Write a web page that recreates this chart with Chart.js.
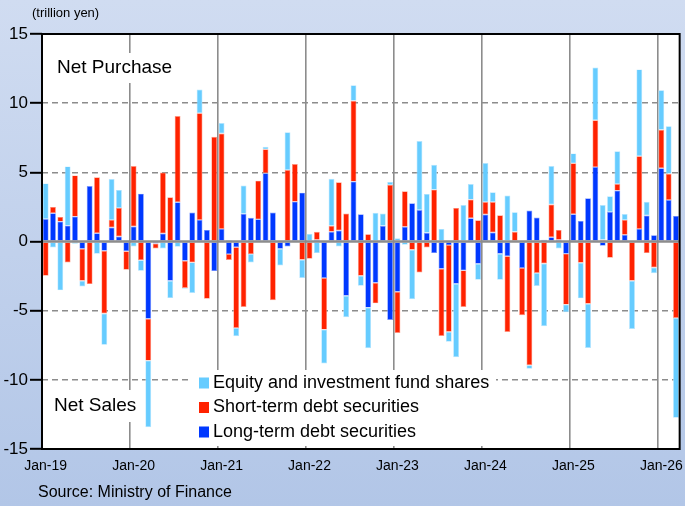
<!DOCTYPE html>
<html>
<head>
<meta charset="utf-8">
<script src="https://cdn.jsdelivr.net/npm/chart.js@4.4.1/dist/chart.umd.min.js"></script>
<style>
body { margin: 0; background: #c4d3ee; }
canvas { display: block; }
</style>
</head>
<body>
<canvas id="flows" width="685" height="506"></canvas>
<script>
const months = ['Jan','Feb','Mar','Apr','May','Jun','Jul','Aug','Sep','Oct','Nov','Dec'];
const years = ['19','20','21','22','23','24','25','26'];
const monthCount = 87; // Jan-19 .. Mar-26

// trillion yen
const longTerm = [
  1.63, 2.04, 1.44, 1.15, 1.80, -0.53, 4.01, 0.60, -0.67, 1.01, 0.36, -0.70,
  1.08, 3.46, -5.58, -0.15, 0.58, -2.84, 2.84, -1.39, 2.09, 1.56, 0.84, -2.14,
  0.91, -0.91, -0.41, 2.00, 1.71, 1.60, 4.93, 2.09, -0.53, -0.36, 2.88, 3.53,
  0, 0.12, -2.64, 0.70, 0.79, -3.92, 4.33, 1.97, -4.78, -2.98, 1.13, -5.67,
  -3.63, 1.06, 2.76, 2.28, 0.63, -0.84, -1.97, -0.26, -3.05, -2.09, 1.68, -1.61,
  1.95, 0.65, -0.89, -1.06, 0, -1.92, 2.24, 1.73, 0.12, 0.31, 0.12, -0.88,
  1.97, 1.49, 3.13, 5.38, -0.31, 2.14, 3.68, 0.48, 0, 0.91, 1.88, 0.46,
  5.29, 3.00, 1.85
];
const shortTerm = [
  -2.48, 0.46, 0.34, -1.51, 2.98, -2.31, -3.08, 4.04, -4.54, 0.55, 2.07, -1.34,
  4.38, -1.35, -3.03, -0.36, 4.40, 3.20, 6.23, -1.97, -1.51, 7.72, -4.13, 7.57,
  6.90, -0.43, -5.84, -4.74, -0.91, 2.80, 1.73, -4.25, 0, 5.17, 2.72, -1.32,
  -1.25, 0.58, -3.73, 0.43, 3.49, 2.02, 5.84, -2.48, 0.53, -1.49, 0, 4.09,
  -2.98, 2.57, -0.60, -2.24, -0.43, 3.75, -4.86, -6.27, 2.43, -2.64, 1.35, 1.54,
  0.91, 2.21, 1.90, -5.48, 0.70, -3.41, -8.94, -2.28, -1.59, 2.36, 0.72, -3.68,
  3.68, -1.54, -4.50, 3.39, 0.12, -1.18, 0.48, 1.08, -2.84, 5.26, -0.84, -1.88,
  2.79, 1.90, -5.53
];
const equity = [
  2.57, -0.43, -3.53, 4.28, -0.17, -0.41, 0, -0.89, -2.26, 2.96, 1.30, 0.10,
  -0.36, -0.77, -4.81, 0, -0.50, -1.25, -0.38, -0.05, -2.21, 1.71, 0, 0,
  0.75, 0.10, -0.60, 2.04, -0.60, 0, 0.19, 0, -1.20, 2.72, 0, -1.32,
  0.55, -0.84, -2.45, 3.41, -0.36, -1.56, 1.13, -0.72, -2.93, 2.07, 0.89, 0.22,
  0.24, -0.24, -3.58, 4.98, 2.81, 1.80, 0.91, -0.72, -5.31, 2.64, 1.13, -1.15,
  2.81, 0.70, -1.88, 3.32, 1.42, 0, -0.26, -0.94, -4.54, 2.79, -0.50, -0.55,
  0.72, -2.57, -3.20, 3.80, 2.52, 1.13, 2.36, 0.43, -3.49, 6.27, 0.99, -0.41,
  2.86, 3.44, -7.21
];

const labels = [];
years.forEach(y => months.forEach(m => labels.push(m + '-' + y)));
labels.length = monthCount;

const font = "'Liberation Sans', Arial, sans-serif";
const lightBlue = '#66ccff', red = '#ff2200', blue = '#0038ff';
const gridGray = '#8c8c8c';

const decor = {
  id: 'decor',
  beforeDraw(chart) {
    const {ctx, chartArea: a, width, height} = chart;
    ctx.save();
    const g = ctx.createLinearGradient(0, 0, 0, height);
    g.addColorStop(0, '#d0dcf1');
    g.addColorStop(1, '#b2c6e7');
    ctx.fillStyle = g;
    ctx.fillRect(0, 0, width, height);
    ctx.fillStyle = '#fff';
    ctx.fillRect(a.left, a.top, a.right - a.left, a.bottom - a.top);
    ctx.fillStyle = '#000';
    ctx.textBaseline = 'middle';
    ctx.font = '13px ' + font;
    ctx.fillText('(trillion yen)', 32, 13);
    ctx.font = '16px ' + font;
    ctx.fillText('Source: Ministry of Finance', 38, 493);
    ctx.restore();
  },
  beforeDatasetsDraw(chart) {
    const ctx = chart.ctx;
    ctx.save();
    ctx.fillStyle = '#fff';
    ctx.fillRect(52, 53, 130, 30);
    ctx.fillRect(50, 390, 92, 32);
    ctx.fillRect(192, 370, 304, 76);
    ctx.fillStyle = '#000';
    ctx.textBaseline = 'middle';
    ctx.font = '19px ' + font;
    ctx.fillText('Net Purchase', 57, 68);
    ctx.fillText('Net Sales', 54, 406);
    const items = [
      [lightBlue, 'Equity and investment fund shares'],
      [red, 'Short-term debt securities'],
      [blue, 'Long-term debt securities']
    ];
    ctx.font = '18px ' + font;
    items.forEach((it, i) => {
      const y = 383 + i * 24.5;
      ctx.fillStyle = it[0];
      ctx.fillRect(199, y - 5.5, 10, 11);
      ctx.fillStyle = '#000';
      ctx.fillText(it[1], 213, y);
    });
    ctx.restore();
  },
  afterDatasetsDraw(chart) {
    const {ctx, chartArea: a, scales} = chart;
    const y0 = scales.y.getPixelForValue(0);
    ctx.save();
    ctx.strokeStyle = gridGray;
    ctx.lineWidth = 2.5;
    ctx.beginPath();
    ctx.moveTo(a.left, y0);
    ctx.lineTo(a.right, y0);
    ctx.stroke();
    ctx.strokeStyle = '#000';
    ctx.lineWidth = 2;
    ctx.strokeRect(a.left, a.top, a.right - a.left, a.bottom - a.top);
    ctx.restore();
  }
};

new Chart('flows', {
  type: 'bar',
  data: {
    labels: labels,
    datasets: [
      { label: 'Long-term debt securities', data: longTerm, backgroundColor: blue, borderColor: '#7f9bff' },
      { label: 'Short-term debt securities', data: shortTerm, backgroundColor: red, borderColor: '#ff9b85' },
      { label: 'Equity and investment fund shares', data: equity, backgroundColor: lightBlue, borderColor: '#b5e5ff' }
    ]
  },
  options: {
    responsive: false,
    animation: false,
    layout: { padding: { top: 34, right: 2, left: 0, bottom: 0 } },
    datasets: { bar: { barPercentage: 0.8, categoryPercentage: 1, borderWidth: 0.7, borderSkipped: false } },
    plugins: { legend: { display: false }, tooltip: { enabled: false } },
    scales: {
      x: {
        stacked: true,
        offset: true,
        grid: {
          offset: true,
          drawTicks: false,
          color: c => (c.index !== undefined && c.index % 12 === 0) ? gridGray : 'rgba(0,0,0,0)',
          lineWidth: 1.6
        },
        border: { display: false },
        ticks: {
          autoSkip: false,
          maxRotation: 0,
          padding: 9,
          color: '#000',
          font: { size: 14, family: font },
          callback: (v, i) => i % 12 === 0 ? labels[i] : ''
        },
        afterFit: s => { s.height = 57; }
      },
      y: {
        stacked: true,
        min: -15,
        max: 15,
        ticks: { stepSize: 5, color: '#000', padding: 2, font: { size: 17, family: font } },
        grid: {
          color: c => (c.tick && Math.abs(c.tick.value) < 15 && c.tick.value !== 0) ? gridGray : 'rgba(0,0,0,0)',
          lineWidth: 1.6,
          tickColor: '#000',
          tickLength: 12,
          tickWidth: 2,
          tickBorderDash: []
        },
        border: { display: false, dash: [6, 4] },
        afterFit: s => { s.width = 42; }
      }
    }
  },
  plugins: [decor]
});
</script>
</body>
</html>
